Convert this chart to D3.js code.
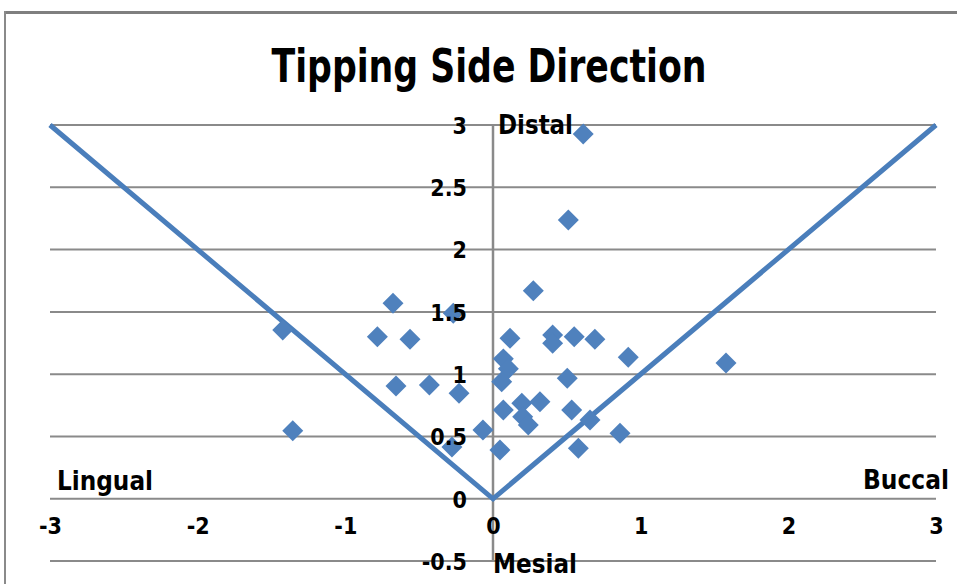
<!DOCTYPE html>
<html>
<head>
<meta charset="utf-8">
<script src="https://cdn.jsdelivr.net/npm/d3@7"></script>
<style>
  html, body { margin: 0; padding: 0; background: #ffffff; }
  svg { display: block; }
  .lbl { font-family: "Liberation Sans Narrow", "Arial Narrow", "DejaVu Sans Condensed", sans-serif; font-weight: bold; fill: #000; }
</style>
</head>
<body>
<svg id="chart" width="957" height="584"></svg>
<script>
// Tipping measurements: x = lingual(-) / buccal(+), y = mesial(-) / distal(+)
const tipX = [-1.424, -1.356, -0.783, -0.677, -0.562, -0.657, -0.431, -0.269, -0.230, -0.278, -0.068,
              0.611, 0.510, 0.273, 0.115, 0.404, 0.404, 0.550, 0.690, 0.916, 1.578, 0.070, 0.104,
              0.059, 0.503, 0.070, 0.195, 0.318, 0.201, 0.239, 0.533, 0.657, 0.860, 0.047, 0.578];
const tipY = [1.355, 0.547, 1.301, 1.569, 1.280, 0.905, 0.913, 1.489, 0.847, 0.416, 0.552,
              2.928, 2.238, 1.670, 1.288, 1.315, 1.248, 1.301, 1.280, 1.136, 1.090, 1.123, 1.043,
              0.939, 0.967, 0.713, 0.766, 0.779, 0.659, 0.593, 0.713, 0.632, 0.526, 0.392, 0.405];

// Boundary "V" between tipping directions
const boundaryX = [-3, 0, 3];
const boundaryY = [3, 0, 3];

const xTicks = [-3, -2, -1, 0, 1, 2, 3];
const yTicks = [-0.5, 0, 0.5, 1, 1.5, 2, 2.5, 3];

const chartTitle = "Tipping Side Direction";
const dirDistal = "Distal", dirMesial = "Mesial", dirLingual = "Lingual", dirBuccal = "Buccal";

const svg = d3.select("#chart");
const W = 957, H = 584;

const x = d3.scaleLinear().domain([-3, 3]).range([50, 936]);
const y = d3.scaleLinear().domain([-0.5, 3]).range([561.1, 125]);

// chart frame (only top and left edges fall inside the view)
svg.append("line").attr("x1", 4).attr("x2", W).attr("y1", 12.5).attr("y2", 12.5)
  .attr("stroke", "#7f7f7f").attr("stroke-width", 3);
svg.append("line").attr("x1", 5).attr("x2", 5).attr("y1", 11).attr("y2", H)
  .attr("stroke", "#8a8a8a").attr("stroke-width", 2);

// horizontal gridlines
svg.append("g").selectAll("line").data(yTicks).join("line")
  .attr("x1", x(-3)).attr("x2", x(3))
  .attr("y1", d => y(d)).attr("y2", d => y(d))
  .attr("stroke", "#8a8a8a").attr("stroke-width", 2);

// vertical axis line at x = 0
svg.append("line")
  .attr("x1", x(0)).attr("x2", x(0))
  .attr("y1", y(3)).attr("y2", y(-0.5))
  .attr("stroke", "#8a8a8a").attr("stroke-width", 2.5);

// V boundary
const vLine = d3.line().x(d => x(d[0])).y(d => y(d[1]));
svg.append("path")
  .datum(boundaryX.map((v, i) => [v, boundaryY[i]]))
  .attr("d", vLine)
  .attr("fill", "none")
  .attr("stroke", "#4a7ebb")
  .attr("stroke-width", 5)
  .attr("stroke-linejoin", "miter");

// diamond markers
const diamond = d3.symbol().type(d3.symbolSquare).size(220);
svg.append("g").selectAll("path").data(tipX.map((v, i) => [v, tipY[i]])).join("path")
  .attr("d", diamond)
  .attr("transform", d => `translate(${x(d[0])},${y(d[1])}) rotate(45)`)
  .attr("fill", "#4f81bd");

// y tick labels, right-aligned beside the vertical axis
const yAxis = d3.axisLeft(y).tickValues(yTicks).tickSize(0).tickPadding(26)
  .tickFormat(d => String(d));
const gy = svg.append("g").attr("transform", `translate(${x(0)},0)`).call(yAxis);
gy.select(".domain").remove();
gy.attr("font-family", null).attr("font-size", null);
gy.selectAll("text").attr("class", "lbl").attr("font-size", 23).attr("dy", "0.36em");

// x tick labels below the zero line
const xAxis = d3.axisBottom(x).tickValues(xTicks).tickSize(0).tickPadding(27)
  .tickFormat(d => String(d));
const gx = svg.append("g").attr("transform", `translate(0,${y(0)})`).call(xAxis);
gx.select(".domain").remove();
gx.attr("font-family", null).attr("font-size", null);
gx.selectAll("text").attr("class", "lbl").attr("font-size", 23).attr("dy", "0.36em");

// title
svg.append("text").attr("class", "lbl")
  .attr("x", 489).attr("y", 82)
  .attr("text-anchor", "middle")
  .attr("font-size", 46)
  .attr("textLength", 435).attr("lengthAdjust", "spacingAndGlyphs")
  .text(chartTitle);

// direction labels
function dirLabel(txt, px, py, len, anchor) {
  svg.append("text").attr("class", "lbl").attr("font-size", 27)
    .attr("x", px).attr("y", py)
    .attr("text-anchor", anchor)
    .attr("textLength", len).attr("lengthAdjust", "spacingAndGlyphs")
    .text(txt);
}
dirLabel(dirDistal, x(0) + 5, y(3) + 9, 75, "start");
dirLabel(dirMesial, x(0), y(-0.5) + 12, 84, "start");
dirLabel(dirLingual, x(-3) + 7, y(0) - 9, 96, "start");
dirLabel(dirBuccal, 949, y(0) - 10, 86, "end");
</script>
</body>
</html>
